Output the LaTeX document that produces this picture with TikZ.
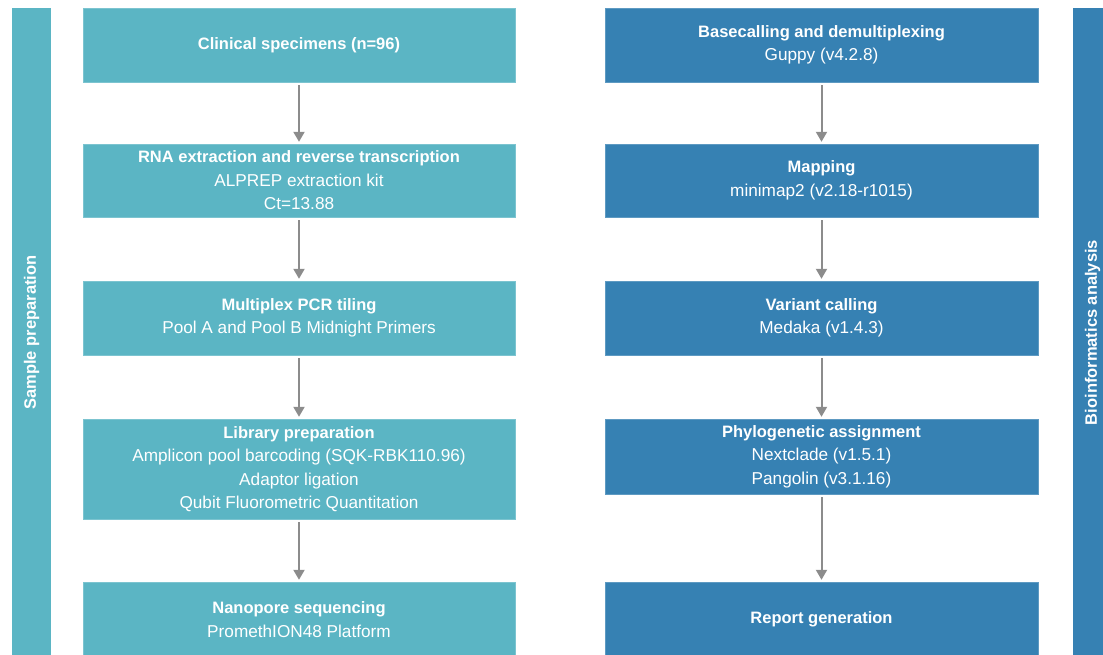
\documentclass[tikz,border=0pt]{standalone}
\usepackage{fontspec}
\setmainfont{Liberation Sans}
\usetikzlibrary{arrows.meta,positioning}

\definecolor{prepcol}{RGB}{91,181,196}
\definecolor{bioicol}{RGB}{54,129,179}
\definecolor{arrowcol}{RGB}{140,140,140}

\begin{document}
\begin{tikzpicture}[x=1pt,y=-1pt,
    stepbox/.style={rectangle,text=white,align=center,inner sep=0pt,
        font=\fontsize{17.2}{23.5}\selectfont},
    prepbox/.style={stepbox,fill=prepcol,draw=prepcol!80!white,minimum width=432pt},
    bioibox/.style={stepbox,fill=bioicol,draw=bioicol!80!white,minimum width=433pt},
    sidebar/.style={rectangle,rotate=90,text=white,minimum width=649pt,minimum height=39pt,
        inner sep=0pt,font=\fontsize{16.5}{18}\selectfont\bfseries},
    flow/.style={draw=arrowcol,line width=2pt,-{Triangle[width=11pt,length=10pt]},
        shorten <=3pt,shorten >=2pt}]
    \useasboundingbox (0,0) rectangle (1103,654);

    % side bars
    \node[sidebar,fill=prepcol] (sampleprep) at (31.5,332.5) {Sample preparation};
    \node[sidebar,fill=bioicol] (bioinf) at (1092.5,332.5) {Bioinformatics analysis};

    % sample preparation
    \node[prepbox,minimum height=74pt] (clinical) at (299,45) {\textbf{\fontsize{16.5}{23.5}\selectfont Clinical specimens (n=96)}};
    \node[prepbox,minimum height=73pt] (extraction) at (299,180.5) {\textbf{\fontsize{16.5}{23.5}\selectfont RNA extraction and reverse transcription}\\ALPREP extraction kit\\Ct=13.88};
    \node[prepbox,minimum height=74pt] (pcr) at (299,318) {\textbf{\fontsize{16.5}{23.5}\selectfont Multiplex PCR tiling}\\Pool A and Pool B Midnight Primers};
    \node[prepbox,minimum height=100pt] (library) at (299,469) {\textbf{\fontsize{16.5}{23.5}\selectfont Library preparation}\\Amplicon pool barcoding (SQK-RBK110.96)\\Adaptor ligation\\Qubit Fluorometric Quantitation};
    \node[prepbox,minimum height=75pt] (sequencing) at (299,619.5) {\textbf{\fontsize{16.5}{23.5}\selectfont Nanopore sequencing}\\PromethION48 Platform};

    \draw[flow] (clinical) -- (extraction);
    \draw[flow] (extraction) -- (pcr);
    \draw[flow] (pcr) -- (library);
    \draw[flow] (library) -- (sequencing);

    % bioinformatics
    \node[bioibox,minimum height=74pt] (basecall) at (821.5,45) {\textbf{\fontsize{16.5}{23.5}\selectfont Basecalling and demultiplexing}\\Guppy (v4.2.8)};
    \node[bioibox,minimum height=73pt] (mapping) at (821.5,180.5) {\textbf{\fontsize{16.5}{23.5}\selectfont Mapping}\\minimap2 (v2.18-r1015)};
    \node[bioibox,minimum height=74pt] (variant) at (821.5,318) {\textbf{\fontsize{16.5}{23.5}\selectfont Variant calling}\\Medaka (v1.4.3)};
    \node[bioibox,minimum height=75pt] (phylo) at (821.5,456.5) {\textbf{\fontsize{16.5}{23.5}\selectfont Phylogenetic assignment}\\Nextclade (v1.5.1)\\Pangolin (v3.1.16)};
    \node[bioibox,minimum height=75pt] (report) at (821.5,619.5) {\textbf{\fontsize{16.5}{23.5}\selectfont Report generation}};

    \draw[flow] (basecall) -- (mapping);
    \draw[flow] (mapping) -- (variant);
    \draw[flow] (variant) -- (phylo);
    \draw[flow] (phylo) -- (report);
\end{tikzpicture}
\end{document}
